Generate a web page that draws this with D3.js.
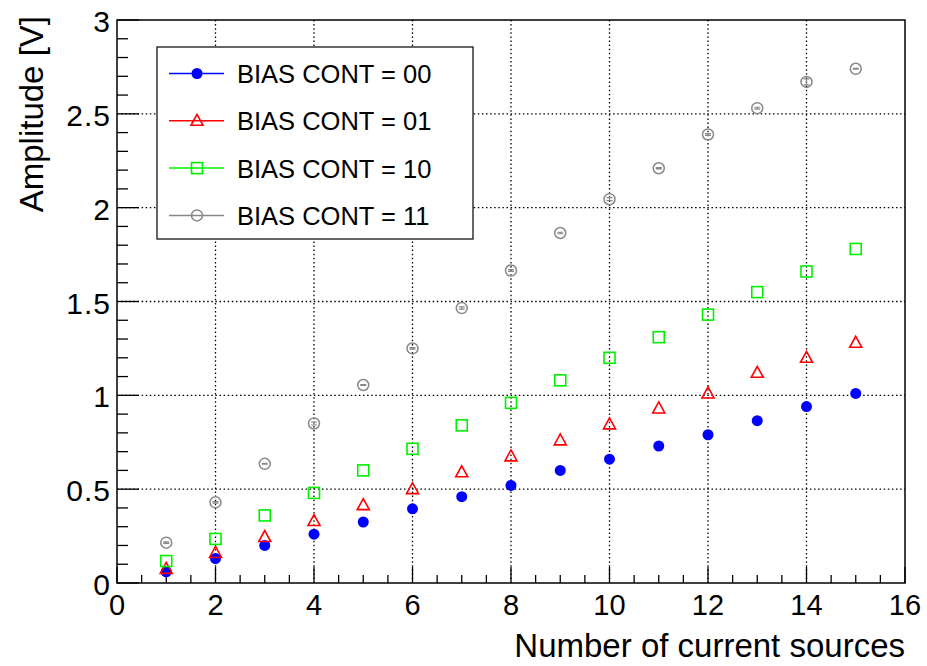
<!DOCTYPE html>
<html>
<head>
<meta charset="utf-8">
<script src="https://cdn.jsdelivr.net/npm/d3@7"></script>
<style>
  body { margin: 0; background: #fff; }
  svg { font-family: "Liberation Sans", Arial, Helvetica, sans-serif; }
</style>
</head>
<body>
<div id="chart"></div>
<script>
// data
var sources = [1, 2, 3, 4, 5, 6, 7, 8, 9, 10, 11, 12, 13, 14, 15];
var bias00 = [0.06, 0.13, 0.20, 0.26, 0.325, 0.395, 0.46, 0.52, 0.60, 0.66, 0.73, 0.79, 0.865, 0.94, 1.01];
var bias01 = [0.075, 0.16, 0.245, 0.33, 0.415, 0.50, 0.59, 0.675, 0.76, 0.845, 0.93, 1.01, 1.12, 1.20, 1.28];
var bias10 = [0.117, 0.235, 0.36, 0.48, 0.60, 0.715, 0.84, 0.96, 1.08, 1.20, 1.31, 1.43, 1.55, 1.66, 1.78];
var bias11 = [0.215, 0.43, 0.635, 0.85, 1.055, 1.25, 1.465, 1.665, 1.865, 2.045, 2.21, 2.39, 2.53, 2.67, 2.74];
var bias11Err = [0.004, 0.004, 0.002, 0.008, 0.002, 0.004, 0.006, 0.005, 0.004, 0.008, 0.003, 0.005, 0.005, 0.016, 0.002];
var seriesNames = ["BIAS CONT = 00", "BIAS CONT = 01", "BIAS CONT = 10", "BIAS CONT = 11"];
var xTicks = [0, 2, 4, 6, 8, 10, 12, 14, 16];
var yTicks = [0, 0.5, 1, 1.5, 2, 2.5, 3];

var W = 927, H = 666;
var frame = { left: 117, right: 905, top: 20, bottom: 583 };

var svg = d3.select("#chart").append("svg")
    .attr("width", W)
    .attr("height", H);

var x = d3.scaleLinear().domain([0, 16]).range([frame.left, frame.right]);
var y = d3.scaleLinear().domain([0, 3]).range([frame.bottom, frame.top]);

var series = [
    { name: seriesNames[0], vals: bias00, color: "#0000ff", shape: "dot" },
    { name: seriesNames[1], vals: bias01, color: "#ff0000", shape: "tri" },
    { name: seriesNames[2], vals: bias10, color: "#00f000", shape: "sq" },
    { name: seriesNames[3], vals: bias11, color: "#888888", shape: "ring", err: bias11Err }
];

// dotted grid at major ticks
var grid = svg.append("g").attr("stroke", "#000").attr("stroke-width", 1.3)
    .attr("stroke-dasharray", "1.5,2.6");
grid.selectAll(".gx").data(xTicks.slice(1, -1)).enter().append("line")
    .attr("x1", d => x(d)).attr("x2", d => x(d))
    .attr("y1", frame.top).attr("y2", frame.bottom);
grid.selectAll(".gy").data(yTicks.slice(1, -1)).enter().append("line")
    .attr("y1", d => y(d)).attr("y2", d => y(d))
    .attr("x1", frame.left).attr("x2", frame.right);

// frame
svg.append("rect")
    .attr("x", frame.left).attr("y", frame.top)
    .attr("width", frame.right - frame.left)
    .attr("height", frame.bottom - frame.top)
    .attr("fill", "none").attr("stroke", "#000").attr("stroke-width", 1.5);

// ticks drawn inside the frame, ROOT style
var xMinor = d3.range(0, 16.001, 0.5);
var yMinor = d3.range(0, 3.001, 0.1);
var tk = svg.append("g").attr("stroke", "#000").attr("stroke-width", 1.3);
tk.selectAll(".xt").data(xMinor).enter().append("line")
    .attr("x1", d => x(d)).attr("x2", d => x(d))
    .attr("y1", frame.bottom)
    .attr("y2", d => frame.bottom - (Math.abs(d % 2) < 1e-6 ? 16 : 8));
tk.selectAll(".yt").data(yMinor).enter().append("line")
    .attr("y1", d => y(d)).attr("y2", d => y(d))
    .attr("x1", frame.left)
    .attr("x2", (d, i) => frame.left + (i % 5 === 0 ? 22 : 11));

// tick labels
svg.append("g").selectAll("text").data(xTicks).enter().append("text")
    .attr("x", d => x(d)).attr("y", 615)
    .attr("text-anchor", "middle")
    .style("font-size", "29px")
    .text(d => d);
svg.append("g").selectAll("text").data(yTicks).enter().append("text")
    .attr("x", 111).attr("y", d => y(d) + 12)
    .attr("text-anchor", "end")
    .style("font-size", "30px")
    .style("letter-spacing", "1px")
    .text(d => d);

// axis titles
svg.append("text")
    .attr("x", frame.right).attr("y", 657)
    .attr("text-anchor", "end")
    .style("font-size", "33px")
    .text("Number of current sources");
svg.append("text")
    .attr("transform", "translate(43," + 16 + ") rotate(-90)")
    .attr("text-anchor", "end")
    .style("font-size", "33px")
    .text("Amplitude [V]");

function marker(g, shape, color) {
    if (shape === "dot") {
        g.append("circle").attr("r", 5.5).attr("fill", color);
    } else if (shape === "ring") {
        g.append("circle").attr("r", 5.5).attr("fill", "none")
            .attr("stroke", color).attr("stroke-width", 1.5);
    } else if (shape === "sq") {
        g.append("rect").attr("x", -5.5).attr("y", -5.5).attr("width", 11).attr("height", 11)
            .attr("fill", "none").attr("stroke", color).attr("stroke-width", 1.6);
    } else if (shape === "tri") {
        g.append("path").attr("d", "M0,-6.5L6,4.5L-6,4.5Z")
            .attr("fill", "none").attr("stroke", color).attr("stroke-width", 1.6);
    }
}

// points
series.forEach(function(s) {
    var g = svg.append("g");
    s.vals.forEach(function(v, i) {
        var p = g.append("g").attr("transform", "translate(" + x(sources[i]) + "," + y(v) + ")");
        if (s.err) {
            var e = y(v - s.err[i]) - y(v);
            p.append("path")
                .attr("d", "M0," + (-e) + "L0," + e + "M-3," + (-e) + "L3," + (-e) + "M-3," + e + "L3," + e)
                .attr("stroke", s.color).attr("stroke-width", 1.2).attr("fill", "none");
        }
        marker(p, s.shape, s.color);
    });
});

// legend
var leg = svg.append("g");
leg.append("rect")
    .attr("x", 157).attr("y", 47).attr("width", 316).attr("height", 192)
    .attr("fill", "#fff").attr("stroke", "#000").attr("stroke-width", 1.2);
series.forEach(function(s, i) {
    var cy = 73.5 + i * 47.3;
    leg.append("line")
        .attr("x1", 169).attr("x2", 224).attr("y1", cy).attr("y2", cy)
        .attr("stroke", s.color).attr("stroke-width", 1.5);
    var m = leg.append("g").attr("transform", "translate(197," + cy + ")");
    marker(m, s.shape, s.color);
    leg.append("text")
        .attr("x", 237).attr("y", cy + 9.5)
        .style("font-size", "25.5px")
        .text(s.name);
});
</script>
</body>
</html>
